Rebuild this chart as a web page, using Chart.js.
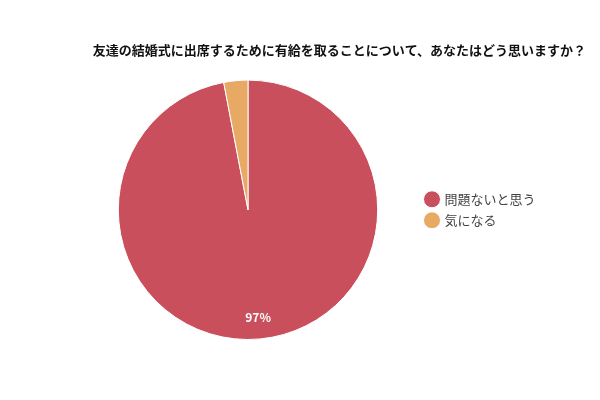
<!DOCTYPE html>
<html>
<head>
<meta charset="utf-8">
<script src="https://cdn.jsdelivr.net/npm/chart.js@4/dist/chart.umd.min.js"></script>
<style>
  html, body { margin: 0; padding: 0; background: #fff; }
  #wrap { width: 600px; height: 400px; }
</style>
</head>
<body>
<div id="wrap"><canvas id="pie"></canvas></div>
<script>
const titleText = '友達の結婚式に出席するために有給を取ることについて、あなたはどう思いますか？';
const labels = ['問題ないと思う', '気になる'];
const values = [97, 3];
const colors = ['#C94F5C', '#E8A965'];

const fontFamily = '"Noto Sans CJK JP", "Noto Sans", sans-serif';

// draw percentage text inside the slices
const pctLabels = {
    id: 'pctLabels',
    afterDatasetsDraw(chart) {
        const ctx = chart.ctx;
        const meta = chart.getDatasetMeta(0);
        const total = values.reduce((a, b) => a + b, 0);
        ctx.save();
        ctx.fillStyle = '#fff';
        ctx.font = 'bold 12px ' + fontFamily;
        ctx.textAlign = 'center';
        ctx.textBaseline = 'middle';
        meta.data.forEach((arc, i) => {
            const pct = Math.round(values[i] / total * 100);
            if (pct < 5) return;
            const p = arc.getProps(['x', 'y', 'startAngle', 'endAngle', 'outerRadius'], true);
            const mid = (p.startAngle + p.endAngle) / 2;
            const r = p.outerRadius * 0.83;
            ctx.fillText(pct + '%', p.x + Math.cos(mid) * r, p.y + Math.sin(mid) * r);
        });
        ctx.restore();
    }
};

// give the right-hand legend a fixed width so the pie sits left of it,
// and centre its items on the pie rather than on the whole canvas
const legendPlace = {
    id: 'legendPlace',
    beforeLayout(chart) {
        const lg = chart.legend;
        if (lg && !lg._fixedWidth) {
            const fit = lg.fit.bind(lg);
            lg.fit = function() {
                fit();
                this.width = 168;
            };
            lg._fixedWidth = true;
        }
    },
    afterLayout(chart) {
        const lg = chart.legend;
        if (lg) lg.top = chart.chartArea.top;
    }
};

new Chart(document.getElementById('pie'), {
    type: 'pie',
    data: {
        labels: labels,
        datasets: [{
            data: values,
            backgroundColor: colors,
            borderColor: '#fff',
            borderWidth: 1
        }]
    },
    options: {
        responsive: true,
        maintainAspectRatio: false,
        animation: false,
        layout: {
            padding: { left: 78, right: 14, top: 42, bottom: 60 }
        },
        plugins: {
            title: {
                display: true,
                text: titleText,
                align: 'end',
                color: '#111',
                font: { family: fontFamily, size: 13, weight: 'bold' },
                padding: { top: 0, bottom: 22 }
            },
            legend: {
                position: 'right',
                labels: {
                    usePointStyle: true,
                    pointStyle: 'circle',
                    boxWidth: 12,
                    boxHeight: 12,
                    padding: 8,
                    color: '#444',
                    font: { family: fontFamily, size: 13 }
                }
            },
            tooltip: { enabled: false }
        }
    },
    plugins: [pctLabels, legendPlace]
});
</script>
</body>
</html>
